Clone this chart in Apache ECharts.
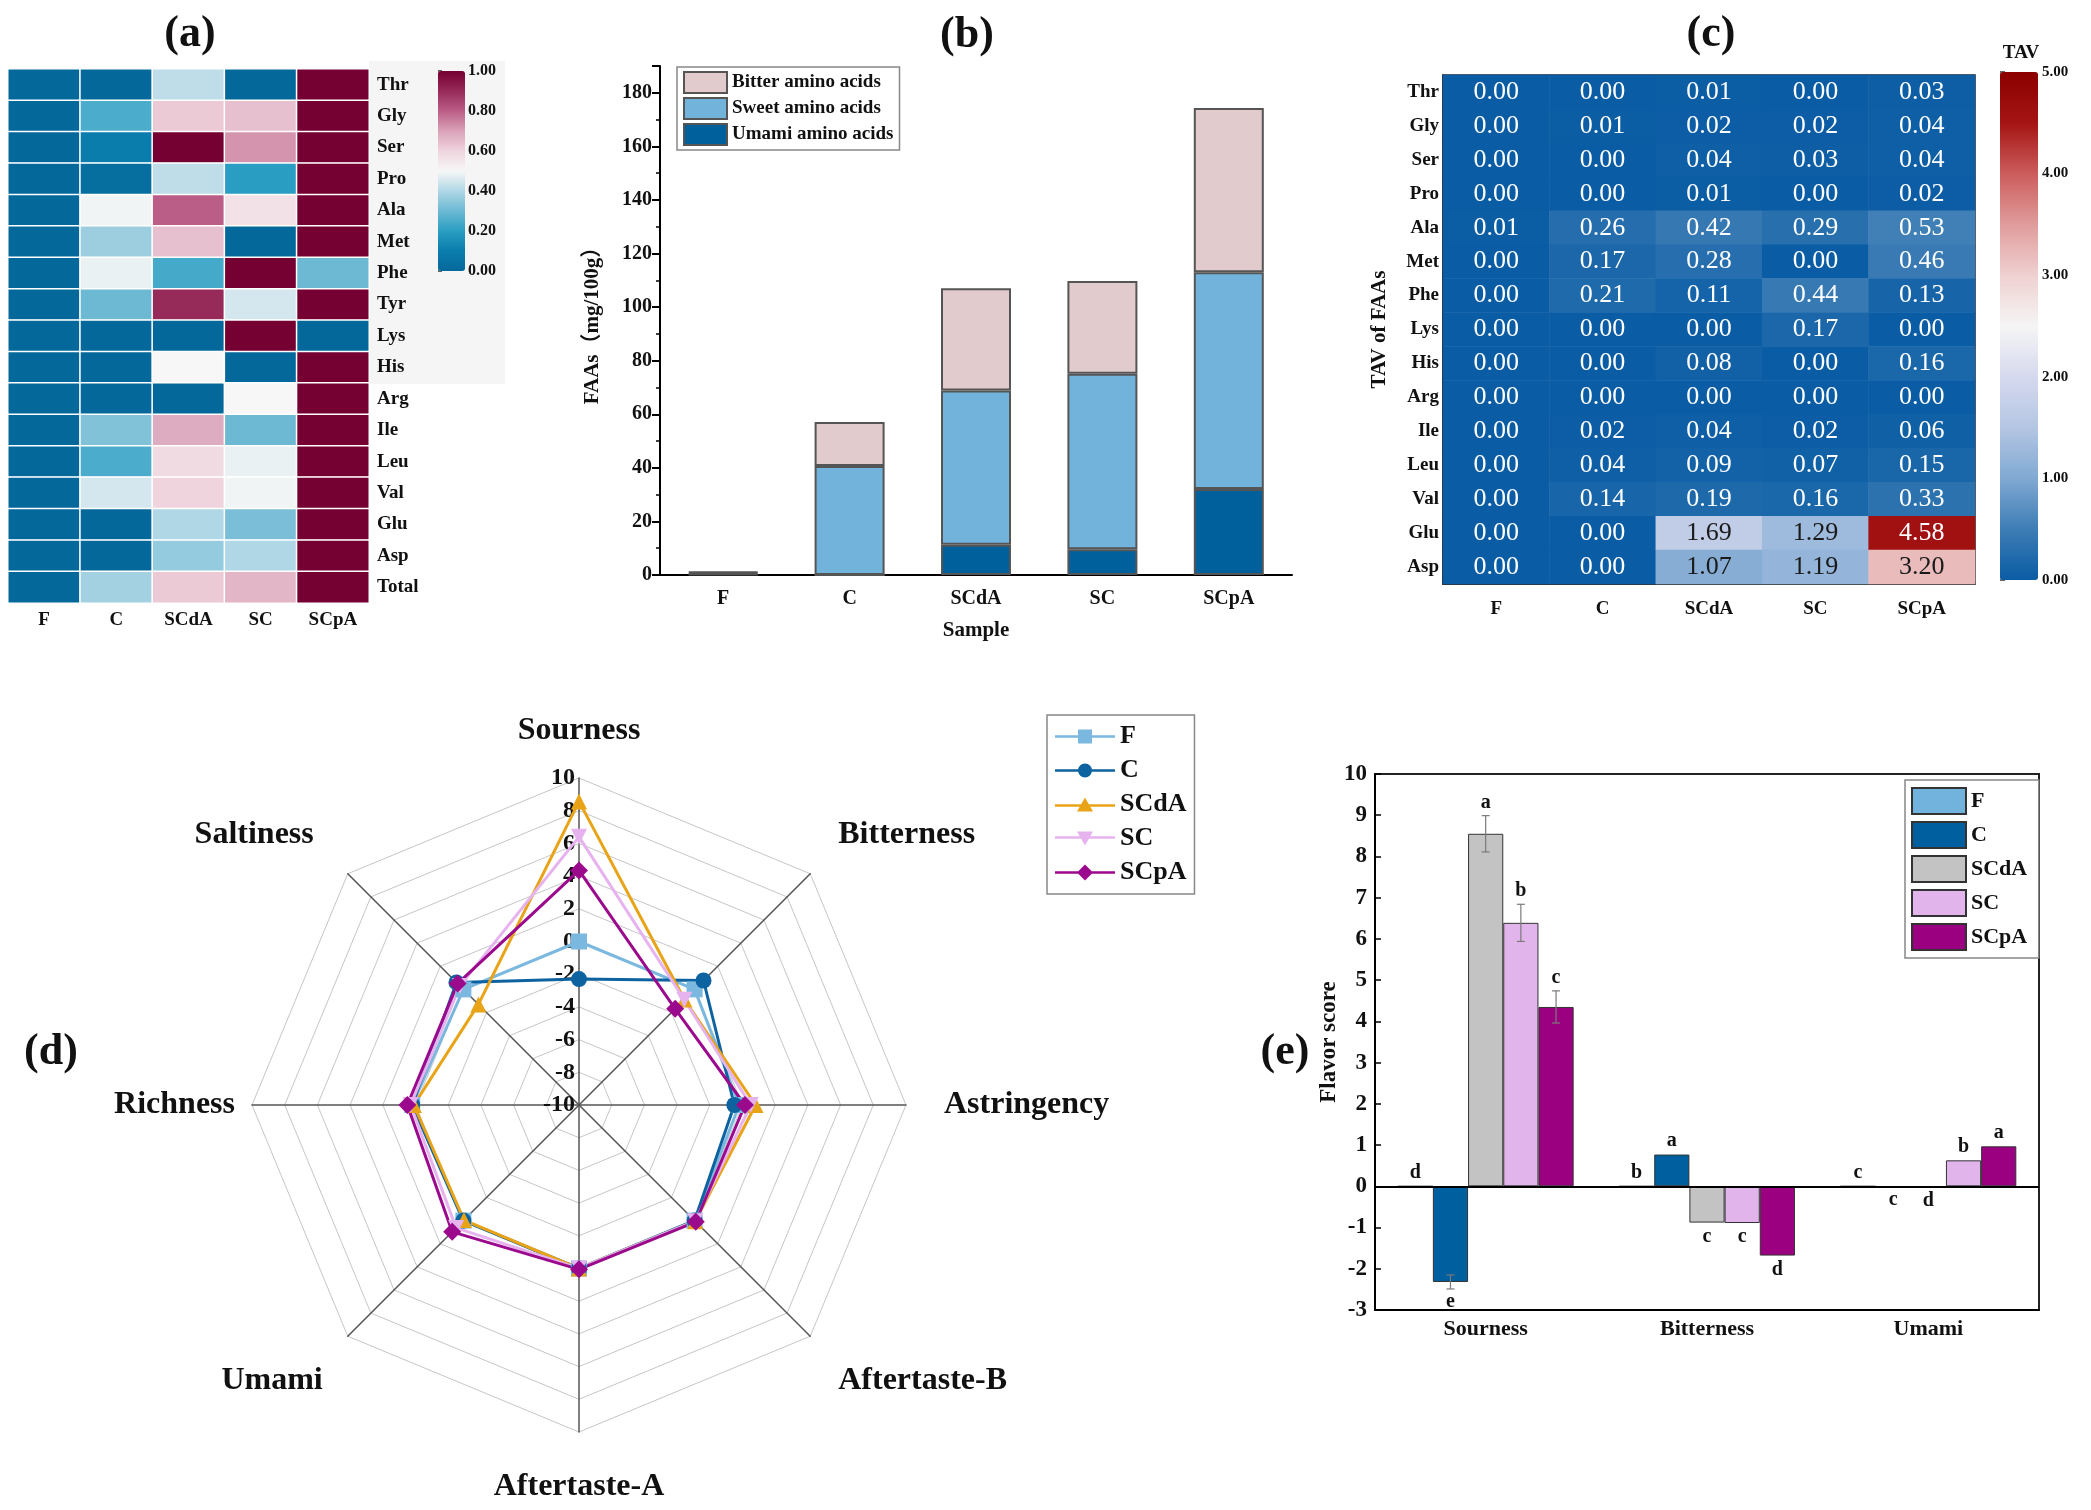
<!DOCTYPE html>
<html><head><meta charset="utf-8">
<script src="https://cdn.jsdelivr.net/npm/echarts@6/dist/echarts.min.js"></script>
<style>html,body{margin:0;padding:0;background:#fff}#c{width:2091px;height:1510px}</style>
</head><body><div id="c"></div>
<script>
// ---------- data ----------
const samples = ['F', 'C', 'SCdA', 'SC', 'SCpA'];

// (a) normalised FAA heatmap
const aminoRowsA = ['Thr','Gly','Ser','Pro','Ala','Met','Phe','Tyr','Lys','His','Arg','Ile','Leu','Val','Glu','Asp','Total'];
const norm_F    = [0,0,0,0,0,0,0,0,0,0,0,0,0,0,0,0,0];
const norm_C    = [0,0.25,0.1,0.03,0.49,0.37,0.48,0.3,0,0,0,0.33,0.25,0.45,0,0,0.38];
const norm_SCdA = [0.42,0.62,1,0.42,0.8,0.64,0.24,0.9,0,0.5,0,0.68,0.58,0.6,0.4,0.36,0.62];
const norm_SC   = [0,0.64,0.72,0.2,0.56,0,1,0.45,1,0,0.5,0.3,0.48,0.49,0.32,0.4,0.66];
const norm_SCpA = [1,1,1,1,1,1,0.3,1,0,1,1,1,1,1,1,1,1];
const normTicks = [0, 0.2, 0.4, 0.6, 0.8, 1.0];

// (b) stacked FAAs (mg/100g)
const umamiAA  = [0.3, 0, 11.3, 9.6, 32.1];
const sweetAA  = [0.5, 40.7, 57.6, 65.5, 80.9];
const bitterAA = [0.4, 16.4, 38.1, 34.6, 61.3];

// (c) TAV heatmap
const aminoRowsC = ['Thr','Gly','Ser','Pro','Ala','Met','Phe','Lys','His','Arg','Ile','Leu','Val','Glu','Asp'];
const tav_F    = [0,0,0,0,0.01,0,0,0,0,0,0,0,0,0,0];
const tav_C    = [0,0.01,0,0,0.26,0.17,0.21,0,0,0,0.02,0.04,0.14,0,0];
const tav_SCdA = [0.01,0.02,0.04,0.01,0.42,0.28,0.11,0,0.08,0,0.04,0.09,0.19,1.69,1.07];
const tav_SC   = [0,0.02,0.03,0,0.29,0,0.44,0.17,0,0,0.02,0.07,0.16,1.29,1.19];
const tav_SCpA = [0.03,0.04,0.04,0.02,0.53,0.46,0.13,0,0.16,0,0.06,0.15,0.33,4.58,3.20];

// (d) electronic tongue radar (counter-clockwise from top)
const radarAxes = ['Sourness','Saltiness','Richness','Umami','Aftertaste-A','Aftertaste-B','Astringency','Bitterness'];
const radar_F    = [0, 0, 0.2, 0, 0, 0, -0.2, 0];
const radar_C    = [-2.3, 0.6, 0.2, 0, 0, 0, -0.5, 0.77];
const radar_SCdA = [8.57, -1.3, 0.1, -0.05, 0, 0.05, 0.8, -0.88];
const radar_SC   = [6.4, 0.3, 0.3, 0.63, 0, 0.05, 0.5, -0.89];
const radar_SCpA = [4.35, 0.5, 0.5, 0.97, 0.05, 0.1, 0.15, -1.68];

// (e) flavor scores
const flavorCats = ['Sourness', 'Bitterness', 'Umami'];
const score_F    = [0, 0, 0];
const score_C    = [-2.32, 0.77, -0.01];
const score_SCdA = [8.55, -0.88, -0.04];
const score_SC   = [6.39, -0.89, 0.63];
const score_SCpA = [4.35, -1.68, 0.97];
const err_F    = [0, 0, 0];
const err_C    = [0.17, 0.02, 0];
const err_SCdA = [0.44, 0.02, 0];
const err_SC   = [0.45, 0.02, 0.01];
const err_SCpA = [0.39, 0.02, 0.01];
const sig_F    = ['d', 'b', 'c'];
const sig_C    = ['e', 'a', 'c'];
const sig_SCdA = ['a', 'c', 'd'];
const sig_SC   = ['b', 'c', 'b'];
const sig_SCpA = ['c', 'd', 'a'];

// ---------- styles ----------
const SERIF = '"Liberation Serif", "Times New Roman", serif';
const SERIF_CJK = '"Liberation Serif", "Noto Sans CJK SC", serif';
const INK = '#111';
const bold = (size) => ({ fontFamily: SERIF, fontWeight: 'bold', fontSize: size, color: INK });

const normColors = ['#05689b','#0a7dac','#2a9ec2','#6db9d3','#b0d7e5','#f7f7f7','#efd4de','#daa2b8','#bb5e87','#962a58','#750032'];
const tavColors = ['#0a5ca4','#3d7db5','#80a9d3','#b4c6e3','#d6d9ee','#f5f5f5','#efd0d0','#e09c9c','#cc5c5c','#a51414','#8b0000'];
const radarColors = ['#7ab8e0', '#0d62a0', '#e8a317', '#e6b3ef', '#9b0a8c'];
const radarSymbols = ['rect', 'circle', 'triangle', 'path://M0,0L10,0L5,9Z', 'diamond'];
const radarIcons = [
  'path://M0,8.8H23V3H37V8.8H60V11.2H37V17H23V11.2H0Z',
  'path://M0,8.8H60V11.2H0Z M30,3A7,7 0 1,1 29.99,3Z',
  'path://M0,8.8H60V11.2H0Z M30,2L38,16L22,16Z',
  'path://M0,8.8H60V11.2H0Z M22,4L38,4L30,18Z',
  'path://M0,8.8H60V11.2H0Z M30,2L38,10L30,18L22,10Z'
];
// per-axis name padding [top, right, bottom, left] (layout only)
const radarNamePad = {
  'Sourness': [0, 0, 14, 0], 'Saltiness': [0, 22, 54, 0], 'Richness': [0, 0, 0, 0], 'Umami': [64, 13, 0, 0],
  'Aftertaste-A': [22, 0, 0, 0], 'Aftertaste-B': [64, 0, 0, 16], 'Astringency': [0, 0, 0, 21], 'Bitterness': [0, 0, 54, 16]
};
const barColorsE = ['#72b3de', '#005f9e', '#c3c3c3', '#e2b4ec', '#9b0081'];
const barFracE = 0.159;

// ---------- derived ----------
const normSets = [norm_F, norm_C, norm_SCdA, norm_SC, norm_SCpA];
const heatAData = [];
normSets.forEach((arr, ci) => arr.forEach((v, ri) => heatAData.push([ci, ri, v])));

const tavSets = [tav_F, tav_C, tav_SCdA, tav_SC, tav_SCpA];
const heatCData = [];
tavSets.forEach((arr, ci) => arr.forEach((v, ri) => heatCData.push({
  value: [ci, ri, v],
  label: { color: (v >= 0.9 && v < 4) ? '#1a1a1a' : '#ffffff' }
})));

const radarSets = [radar_F, radar_C, radar_SCdA, radar_SC, radar_SCpA];
const scoreSets = [score_F, score_C, score_SCdA, score_SC, score_SCpA];
const errSets = [err_F, err_C, err_SCdA, err_SC, err_SCpA];
const sigSets = [sig_F, sig_C, sig_SCdA, sig_SC, sig_SCpA];
const namesE = samples.map(s => s + ' ');
const sigData = [];
scoreSets.forEach((arr, si) => arr.forEach((v, ci) => sigData.push([ci, v, errSets[si][ci], si])));
const sigLetters = [];
sigSets.forEach(arr => arr.forEach(l => sigLetters.push(l)));

const nameRich = {};
radarAxes.forEach((n, i) => {
  nameRich['k' + i] = { fontFamily: SERIF, fontWeight: 'bold', fontSize: 32, color: INK, padding: radarNamePad[n] };
});

// ---------- option ----------
const noOuter = { outerBoundsMode: 'none', containLabel: false };
const option = {
  backgroundColor: '#ffffff',
  animation: false,
  graphic: [
    { type: 'rect', z: -10, shape: { x: 369, y: 61, width: 136, height: 323 }, style: { fill: '#f5f5f5' } },
    { type: 'text', x: 190, y: 35, style: { text: '(a)', font: 'bold 44px ' + SERIF, align: 'center', verticalAlign: 'middle', fill: INK } },
    { type: 'text', x: 967, y: 36, style: { text: '(b)', font: 'bold 44px ' + SERIF, align: 'center', verticalAlign: 'middle', fill: INK } },
    { type: 'text', x: 1711, y: 35, style: { text: '(c)', font: 'bold 44px ' + SERIF, align: 'center', verticalAlign: 'middle', fill: INK } },
    { type: 'text', x: 51, y: 1053, style: { text: '(d)', font: 'bold 44px ' + SERIF, align: 'center', verticalAlign: 'middle', fill: INK } },
    { type: 'text', x: 1285, y: 1053, style: { text: '(e)', font: 'bold 44px ' + SERIF, align: 'center', verticalAlign: 'middle', fill: INK } },
    { type: 'text', x: 2021, y: 53, style: { text: 'TAV', font: 'bold 19px ' + SERIF, align: 'center', verticalAlign: 'middle', fill: INK } }
  ],
  grid: [
    Object.assign({ left: 8, top: 69, width: 361, height: 534 }, noOuter),
    Object.assign({ left: 438, top: 71, width: 27, height: 200 }, noOuter),
    Object.assign({ left: 660, top: 66, width: 632, height: 509 }, noOuter),
    Object.assign({ left: 1443, top: 75, width: 532, height: 509, show: true, borderColor: '#222', borderWidth: 1.5, backgroundColor: 'transparent' }, noOuter),
    Object.assign({ left: 2000, top: 72, width: 38, height: 508 }, noOuter),
    Object.assign({ left: 579, top: 778, width: 1, height: 327 }, noOuter),
    Object.assign({ left: 1375, top: 774, width: 664, height: 536, show: true, borderColor: '#222', borderWidth: 2, backgroundColor: 'transparent' }, noOuter)
  ],
  xAxis: [
    { gridIndex: 0, type: 'category', data: samples, axisLine: { show: false }, axisTick: { show: false }, axisLabel: Object.assign({ margin: 8 }, bold(19)) },
    { gridIndex: 1, type: 'value', show: false },
    { gridIndex: 2, type: 'category', data: samples, name: 'Sample', nameLocation: 'middle', nameGap: 45, nameTextStyle: bold(21),
      axisLine: { lineStyle: { color: '#000', width: 2 } }, axisTick: { alignWithLabel: true, length: 8, lineStyle: { width: 2, color: '#000' } },
      axisLabel: Object.assign({ margin: 14 }, bold(20)) },
    { gridIndex: 3, type: 'category', data: samples, axisLine: { lineStyle: { color: '#222', width: 1.5 } },
      axisTick: { alignWithLabel: true, length: 10, lineStyle: { color: '#222', width: 2 } }, axisLabel: Object.assign({ margin: 16 }, bold(19)) },
    { gridIndex: 4, type: 'value', show: false },
    { gridIndex: 5, type: 'value', show: false },
    { gridIndex: 6, type: 'category', data: flavorCats, axisLine: { onZero: false, lineStyle: { color: '#000', width: 2 } },
      axisTick: { alignWithLabel: true, inside: true, length: 8, lineStyle: { color: '#000', width: 1.5 } }, axisLabel: Object.assign({ margin: 8 }, bold(22)) }
  ],
  yAxis: [
    { gridIndex: 0, type: 'category', data: aminoRowsA, inverse: true, position: 'right', axisLine: { show: false }, axisTick: { show: false },
      axisLabel: Object.assign({ margin: 8, align: 'left' }, bold(19)) },
    { gridIndex: 1, type: 'value', min: normTicks[0], max: normTicks[normTicks.length - 1], interval: 0.2, position: 'right',
      axisLine: { show: false }, splitLine: { show: false }, axisTick: { show: true, length: 4, lineStyle: { color: '#333', width: 1.5 } },
      axisLabel: Object.assign({ margin: 3, formatter: v => v.toFixed(2) }, bold(16)) },
    { gridIndex: 2, type: 'value', min: 0, max: 190, interval: 20, name: 'FAAs（mg/100g）', nameLocation: 'middle', nameGap: 57,
      nameTextStyle: { fontFamily: SERIF_CJK, fontWeight: 'bold', fontSize: 21, color: INK },
      axisLine: { show: true, lineStyle: { color: '#000', width: 2 } }, splitLine: { show: false },
      axisTick: { show: true, length: 8, lineStyle: { color: '#000', width: 2 } },
      minorTick: { show: true, splitNumber: 2, length: 4, lineStyle: { color: '#000', width: 1.5 } },
      axisLabel: Object.assign({ margin: 8, showMaxLabel: false }, bold(20)) },
    { gridIndex: 3, type: 'category', data: aminoRowsC, inverse: true, name: 'TAV of FAAs', nameLocation: 'middle', nameGap: 53, nameTextStyle: bold(21),
      axisLine: { lineStyle: { color: '#222', width: 1.5 } }, axisTick: { alignWithLabel: true, length: 10, lineStyle: { color: '#222', width: 2 } },
      axisLabel: Object.assign({ margin: 4 }, bold(19)) },
    { gridIndex: 4, type: 'value', min: 0, max: 5, interval: 1, position: 'right', axisLine: { show: false }, splitLine: { show: false },
      axisTick: { show: true, length: 5, lineStyle: { color: '#333', width: 1.5 } },
      axisLabel: Object.assign({ margin: 4, formatter: v => v.toFixed(2) }, bold(15)) },
    { gridIndex: 5, type: 'value', min: -10, max: 10, interval: 2, position: 'left', axisLine: { show: false }, axisTick: { show: false },
      splitLine: { show: false }, axisLabel: Object.assign({ margin: 4 }, bold(24)) },
    { gridIndex: 6, type: 'value', min: -3, max: 10, interval: 1, name: 'Flavor score', nameLocation: 'middle', nameGap: 34, nameTextStyle: bold(23),
      axisLine: { show: true, lineStyle: { color: '#000', width: 2 } }, splitLine: { show: false },
      axisTick: { show: true, inside: true, length: 6, lineStyle: { color: '#000', width: 1.5 } },
      axisLabel: Object.assign({ margin: 8 }, bold(23)) }
  ],
  visualMap: [
    { type: 'continuous', seriesIndex: 0, dimension: 2, min: 0, max: 1, calculable: false, orient: 'vertical',
      left: 438, top: 71, itemWidth: 27, itemHeight: 200, padding: 0, inRange: { color: normColors } },
    { type: 'continuous', seriesIndex: 1, dimension: 2, min: 0, max: 5, calculable: false, orient: 'vertical',
      left: 2000, top: 72, itemWidth: 38, itemHeight: 508, padding: 0, inRange: { color: tavColors } }
  ],
  radar: {
    center: [579, 1105], radius: 327, startAngle: 90, splitNumber: 10, shape: 'polygon',
    indicator: radarAxes.map(n => ({ name: n, min: -10, max: 10 })),
    axisName: {
      color: INK, fontSize: 32, fontWeight: 'bold', fontFamily: SERIF,
      formatter: (name) => '{k' + radarAxes.indexOf(name) + '|' + name + '}',
      rich: nameRich
    },
    nameGap: 17,
    splitLine: { lineStyle: { color: '#c6c6c6', width: 1 } },
    splitArea: { show: false },
    axisLine: { lineStyle: { color: '#555', width: 1.5 } },
    axisTick: { show: false }, axisLabel: { show: false }
  },
  legend: [
    { data: ['Bitter amino acids', 'Sweet amino acids', 'Umami amino acids'], orient: 'vertical', left: 677, top: 67,
      itemWidth: 43, itemHeight: 21, itemGap: 3, icon: 'rect', padding: [4, 6], borderColor: '#888', borderWidth: 1.5,
      textStyle: bold(19), selectedMode: false },
    { data: samples.map((s, i) => ({ name: s, icon: radarIcons[i] })), orient: 'vertical', left: 1047, top: 715,
      itemWidth: 60, itemHeight: 16, itemGap: 5, padding: [7, 8], borderColor: '#888', borderWidth: 1.5,
      textStyle: Object.assign({ lineHeight: 29 }, bold(26)), selectedMode: false },
    { data: namesE, orient: 'vertical', left: 1905, top: 780, itemWidth: 54, itemHeight: 26, itemGap: 6, icon: 'rect',
      padding: [7, 6], borderColor: '#888', borderWidth: 1.5, textStyle: bold(22), selectedMode: false }
  ],
  series: [
    { type: 'heatmap', xAxisIndex: 0, yAxisIndex: 0, data: heatAData, itemStyle: { borderColor: '#ffffff', borderWidth: 1.5 }, emphasis: { disabled: true } },
    { type: 'heatmap', xAxisIndex: 3, yAxisIndex: 3, data: heatCData, emphasis: { disabled: true },
      label: { show: true, fontFamily: SERIF, fontSize: 26, formatter: p => p.value[2].toFixed(2) } },
    { type: 'bar', name: 'Umami amino acids', stack: 'faa', xAxisIndex: 2, yAxisIndex: 2, data: umamiAA, barWidth: 70,
      itemStyle: { color: '#00609c', borderColor: '#555', borderWidth: 2 } },
    { type: 'bar', name: 'Sweet amino acids', stack: 'faa', xAxisIndex: 2, yAxisIndex: 2, data: sweetAA, barWidth: 70,
      itemStyle: { color: '#72b3dc', borderColor: '#555', borderWidth: 2 } },
    { type: 'bar', name: 'Bitter amino acids', stack: 'faa', xAxisIndex: 2, yAxisIndex: 2, data: bitterAA, barWidth: 70,
      itemStyle: { color: '#e2cbcc', borderColor: '#555', borderWidth: 2 } }
  ].concat(samples.map((s, i) => ({
    type: 'radar', name: s, symbol: radarSymbols[i], symbolSize: i === 4 ? 18 : 16,
    lineStyle: { color: radarColors[i], width: 3 }, itemStyle: { color: radarColors[i] },
    data: [{ name: s, value: radarSets[i] }]
  }))).concat(namesE.map((s, i) => {
    const ser = {
      type: 'bar', name: s, xAxisIndex: 6, yAxisIndex: 6, data: scoreSets[i], barWidth: (barFracE * 100) + '%', barGap: '0%',
      itemStyle: { color: barColorsE[i], borderColor: '#333', borderWidth: 1 }
    };
    if (i === 0) {
      ser.markLine = { silent: true, symbol: ['none', 'none'], label: { show: false }, lineStyle: { color: '#000', width: 2, type: 'solid' }, data: [{ yAxis: 0 }] };
    }
    return ser;
  })).concat([{
    type: 'custom', name: 'significance', xAxisIndex: 6, yAxisIndex: 6, z: 5, data: sigData,
    renderItem: function (params, api) {
      const ci = api.value(0), v = api.value(1), e = api.value(2), si = api.value(3);
      const band = api.size([1, 0])[0];
      const x = api.coord([ci, 0])[0] + (si - 2) * band * barFracE;
      const yTop = api.coord([ci, v + e])[1];
      const yBot = api.coord([ci, v - e])[1];
      const children = [];
      if (e > 0.05) {
        const st = { stroke: '#7a7a7a', lineWidth: 1.2 };
        children.push({ type: 'line', shape: { x1: x, y1: yTop, x2: x, y2: yBot }, style: st });
        children.push({ type: 'line', shape: { x1: x - 4, y1: yTop, x2: x + 4, y2: yTop }, style: st });
        children.push({ type: 'line', shape: { x1: x - 4, y1: yBot, x2: x + 4, y2: yBot }, style: st });
      }
      const pos = v >= 0;
      children.push({ type: 'text', style: {
        text: sigLetters[params.dataIndex], x: x, y: pos ? yTop - 3 : yBot + 3,
        align: 'center', verticalAlign: pos ? 'bottom' : 'top', font: 'bold 20px ' + SERIF, fill: INK } });
      return { type: 'group', children: children };
    }
  }])
};

const chart = echarts.init(document.getElementById('c'), null, { renderer: 'canvas' });
chart.setOption(option);
</script>
</body></html>
